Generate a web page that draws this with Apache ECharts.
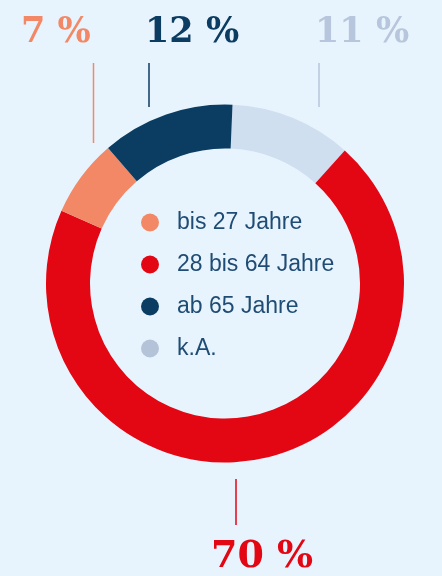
<!DOCTYPE html>
<html>
<head>
<meta charset="utf-8">
<script src="https://cdn.jsdelivr.net/npm/echarts@6/dist/echarts.min.js"></script>
<style>
html,body{margin:0;padding:0;background:#e8f4fd;}
#c{width:442px;height:576px;}
</style>
</head>
<body>
<div id="c"></div>
<script>
// Data (clockwise from top)
const categories = ['k.A.', '28 bis 64 Jahre', 'bis 27 Jahre', 'ab 65 Jahre'];
const values = [11, 70, 7, 12];
const legendOrder = ['bis 27 Jahre', '28 bis 64 Jahre', 'ab 65 Jahre', 'k.A.'];

// Styles
const sliceColors = ['#cfdff0', '#e30613', '#f28866', '#0b3c61'];
const labelColors = ['#b7c6dc', '#e30613', '#f28866', '#0b3c61'];
const legendIconColors = {'bis 27 Jahre': '#f28866', '28 bis 64 Jahre': '#e30613', 'ab 65 Jahre': '#0b3c61', 'k.A.': '#b5c3d9'};

// Label placement (layout only)
const labelX = [315, 211, 21, 145];
const labelY = [33, 557, 33, 33];
const labelSize = [35, 38, 35, 35];
const lineX = [319, 236, 93.5, 149];
const lineTop = [63, 479, 63, 63];
const lineBottom = [107, 525, 143, 107];

const chart = echarts.init(document.getElementById('c'));
chart.setOption({
  backgroundColor: '#e8f4fd',
  animation: false,
  legend: {
    orient: 'vertical',
    left: 136,
    top: 206,
    itemWidth: 18,
    itemHeight: 18,
    itemGap: 19,
    icon: 'circle',
    selectedMode: false,
    data: legendOrder.map(n => ({name: n, itemStyle: {color: legendIconColors[n]}})),
    textStyle: {
      fontFamily: 'Liberation Sans, Arial, sans-serif',
      fontSize: 23,
      color: '#1f4c74',
      padding: [0, 0, 0, 13]
    }
  },
  series: [{
    type: 'pie',
    center: [225, 283.5],
    radius: [135, 179],
    startAngle: 87.6,
    clockwise: true,
    avoidLabelOverlap: false,
    silent: true,
    emphasis: {disabled: true},
    data: categories.map((n, i) => ({
      name: n,
      value: values[i],
      itemStyle: {color: sliceColors[i]},
      label: {color: labelColors[i], fontSize: labelSize[i]},
      labelLine: {lineStyle: {color: labelColors[i]}}
    })),
    label: {
      show: true,
      position: 'outside',
      formatter: '{c} %',
      fontFamily: 'DejaVu Serif, serif',
      fontWeight: 'bold'
    },
    labelLine: {
      show: true,
      smooth: false,
      lineStyle: {width: 1.5}
    },
    labelLayout: function (params) {
      const i = params.dataIndex;
      return {
        x: labelX[i],
        y: labelY[i],
        align: 'left',
        verticalAlign: 'middle',
        labelLinePoints: [
          [lineX[i], lineBottom[i]],
          [lineX[i], (lineTop[i] + lineBottom[i]) / 2],
          [lineX[i], lineTop[i]]
        ]
      };
    }
  }]
});
</script>
</body>
</html>
